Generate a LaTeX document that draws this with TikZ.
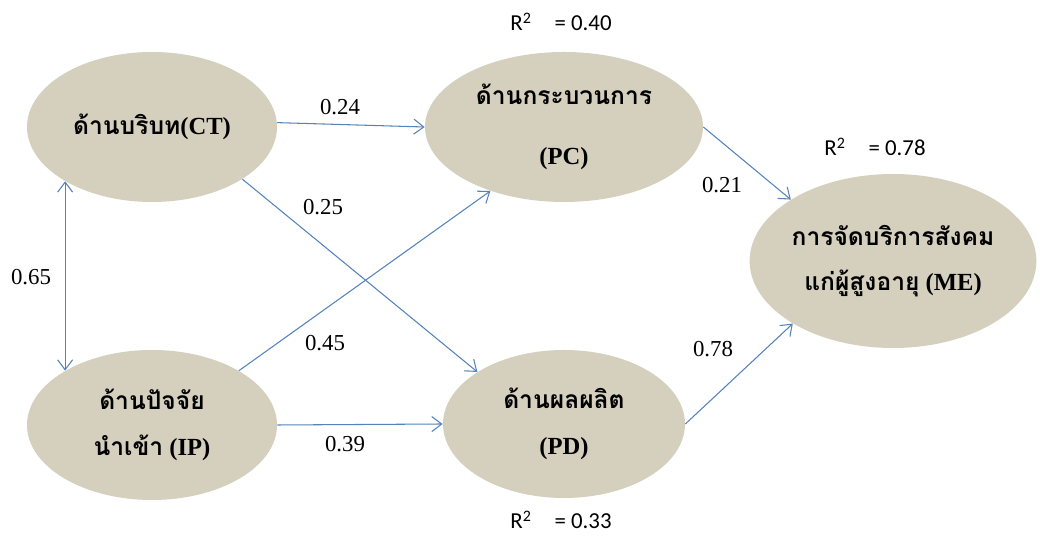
\documentclass[tikz,border=0pt]{standalone}
\usepackage{fontspec}
\setmainfont{Liberation Serif}
\newfontfamily\thaifont[Script=Thai]{Loma}
\newfontfamily\rsqfont{Carlito}
\usetikzlibrary{arrows.meta,shapes.geometric}

\definecolor{tan}{RGB}{213,207,190}
\definecolor{pathblue}{RGB}{84,130,186}

\tikzset{
	construct/.style={ellipse, fill=tan, inner sep=0pt, align=center,
		font=\bfseries\fontsize{14}{26}\selectfont},
	link/.style={draw=pathblue, line width=0.6pt},
	coef/.style={inner sep=1pt, font=\fontsize{13}{15}\selectfont},
	rsq/.style={inner sep=1pt, font=\rsqfont\fontsize{13}{15}\selectfont}
}

\begin{document}
\begin{tikzpicture}[->, >={Straight Barb[length=2mm,width=3mm]}]
	\useasboundingbox (0,0) rectangle (20.8,10.74);

% CONSTRUCTS
	\node [construct, minimum width=5cm, minimum height=3cm] (CT) at (3.04,8.2)
	{{\thaifont ด้านบริบท}(CT)};
	\node [construct, minimum width=5cm, minimum height=3cm] (IP) at (3.04,2.24)
	{{\thaifont ด้านปัจจัย}\\{\thaifont นำเข้า} (IP)};
	\node [construct, minimum width=5.56cm, minimum height=3cm] (PC) at (11.28,8.2)
	{{\thaifont ด้านกระบวนการ}\\[8pt](PC)};
	\node [construct, minimum width=4.84cm, minimum height=2.96cm] (PD) at (11.28,2.26)
	{{\thaifont ด้านผลผลิต}\\(PD)};
	\node [construct, minimum width=5.72cm, minimum height=3.48cm] (ME) at (17.86,5.52)
	{{\thaifont การจัดบริการสังคม}\\{\thaifont แก่ผู้สูงอายุ} (ME)};

% PATHS
	\draw [link] (CT.2) -- (PC.west);
	\draw [link] (CT.-30) -- (PD.149);
	\draw [link] (IP.32) -- (PC.-139);
	\draw [link] (IP.east) -- (PD.west);
	\draw [link] (PC.east) -- (ME.149);
	\draw [link] (PD.east) -- (ME.-148);
	\draw [link, <->] (CT.-148) -- (IP.148);

% COEFFICIENTS
	\node [coef] (b24) at (6.80,8.60) {0.24};
	\node [coef] (b25) at (6.46,6.60) {0.25};
	\node [coef] (b45) at (6.50,3.88) {0.45};
	\node [coef] (b39) at (6.90,1.86) {0.39};
	\node [coef] (b65) at (0.62,5.20) {0.65};
	\node [coef] (b21) at (14.44,7.04) {0.21};
	\node [coef] (b78) at (14.26,3.76) {0.78};

% R SQUARE
	\node [rsq] (rPC) at (11.22,10.30) {R\textsuperscript{2}\quad= 0.40};
	\node [rsq] (rME) at (17.50,7.80) {R\textsuperscript{2}\quad= 0.78};
	\node [rsq] (rPD) at (11.22,0.34) {R\textsuperscript{2}\quad= 0.33};

\end{tikzpicture}
\end{document}
